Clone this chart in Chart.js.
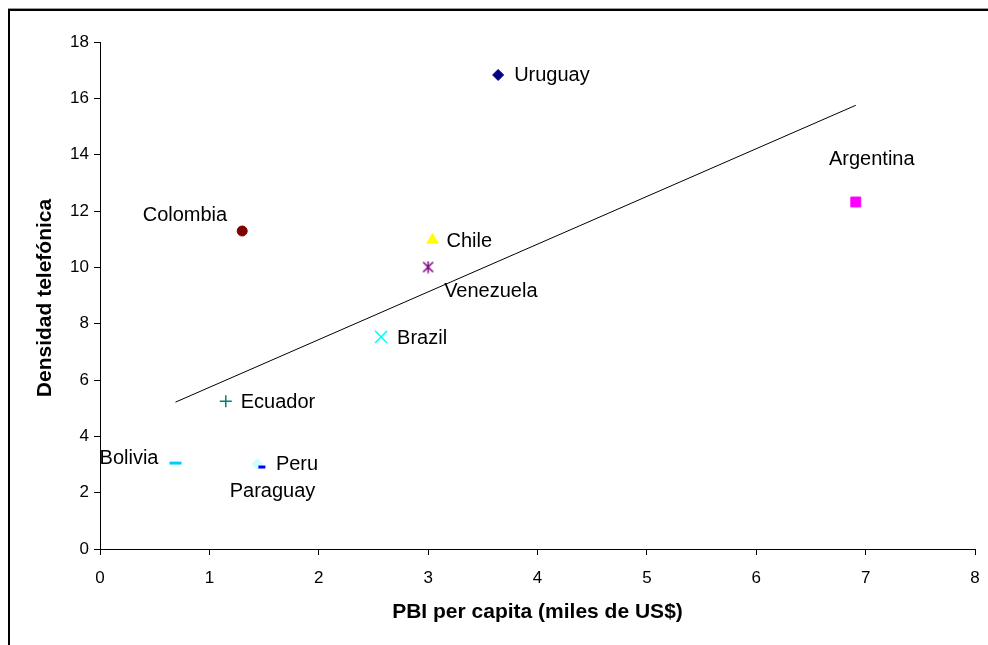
<!DOCTYPE html>
<html>
<head>
<meta charset="utf-8">
<script src="https://cdn.jsdelivr.net/npm/chart.js@4/dist/chart.umd.min.js"></script>
<style>
  html, body { margin: 0; padding: 0; background: #fff; }
  canvas { display: block; }
</style>
</head>
<body>
<canvas id="chart" width="988" height="645"></canvas>
<script>
// GDP per capita vs. telephone density, South America
const countries    = ['Uruguay', 'Argentina', 'Chile', 'Brazil', 'Venezuela', 'Colombia', 'Ecuador', 'Peru', 'Bolivia', 'Paraguay'];
const gdpPerCapita = [3.64, 6.91, 3.04, 2.57, 3.00, 1.30, 1.15, 1.48, 0.69, 1.44];
const phoneDensity = [16.83, 12.32, 10.97, 7.53, 10.01, 11.29, 5.25, 2.91, 3.05, 3.02];

const xTickValues = [0, 1, 2, 3, 4, 5, 6, 7, 8];
const yTickValues = [0, 2, 4, 6, 8, 10, 12, 14, 16, 18];

const xTitle = 'PBI per capita (miles de US$)';
const yTitle = 'Densidad telefónica';

// six-armed asterisk marker (an X crossed by a vertical stroke)
function asteriskMarker(color, half, lw) {
  const size = Math.ceil(half * 2 + lw * 2);
  const c = document.createElement('canvas');
  c.width = size; c.height = size;
  const g = c.getContext('2d');
  const m = size / 2;
  g.strokeStyle = color;
  g.lineWidth = lw;
  g.beginPath();
  g.moveTo(m - half, m - half); g.lineTo(m + half, m + half);
  g.moveTo(m + half, m - half); g.lineTo(m - half, m + half);
  g.moveTo(m, m - half - 1);    g.lineTo(m, m + half + 1);
  g.stroke();
  return c;
}

// marker look for each country series
const markerStyle = {
  Uruguay:   { style: 'rectRot',  color: '#000080', radius: 5.5, width: 1 },
  Argentina: { style: 'rect',     color: '#FF00FF', radius: 7,   width: 1 },
  Chile:     { style: 'triangle', color: '#FFFF00', radius: 6.5, width: 1 },
  Brazil:    { style: 'crossRot', color: '#00FFFF', radius: 8.5, width: 1.5 },
  Venezuela: { style: asteriskMarker('#800080', 5, 1.5), color: '#800080', radius: 6, width: 1.5 },
  Colombia:  { style: 'circle',   color: '#800000', radius: 5,   width: 1 },
  Ecuador:   { style: 'cross',    color: '#008080', radius: 6,   width: 1.5 },
  Peru:      { style: 'line',     color: '#0000FF', radius: 3.5, width: 3 },
  Bolivia:   { style: 'line',     color: '#00CCFF', radius: 6,   width: 3 },
  Paraguay:  { style: 'rectRot',  color: '#CCFFFF', radius: 5.5, width: 1 }
};

// where each name sits relative to its marker
const labelPlacement = {
  Uruguay:   { dx: 16,  dy: 1,   align: 'left' },
  Argentina: { dx: 16,  dy: -43, align: 'center' },
  Chile:     { dx: 14,  dy: 1,   align: 'left' },
  Brazil:    { dx: 16,  dy: 2,   align: 'left' },
  Venezuela: { dx: 16,  dy: 24,  align: 'left' },
  Colombia:  { dx: -15, dy: -16, align: 'right' },
  Ecuador:   { dx: 15,  dy: 1,   align: 'left' },
  Peru:      { dx: 14,  dy: -3,  align: 'left' },
  Bolivia:   { dx: -17, dy: -5,  align: 'right' },
  Paraguay:  { dx: 15,  dy: 28,  align: 'center' }
};

// least-squares linear trend across the observed x range
function linearTrend(xs, ys) {
  const n = xs.length;
  const mx = xs.reduce((a, b) => a + b, 0) / n;
  const my = ys.reduce((a, b) => a + b, 0) / n;
  let sxy = 0, sxx = 0;
  for (let i = 0; i < n; i++) {
    sxy += (xs[i] - mx) * (ys[i] - my);
    sxx += (xs[i] - mx) * (xs[i] - mx);
  }
  const slope = sxy / sxx;
  const intercept = my - slope * mx;
  const x0 = Math.min(...xs), x1 = Math.max(...xs);
  return [{ x: x0, y: intercept + slope * x0 }, { x: x1, y: intercept + slope * x1 }];
}

const FONT = '"Liberation Sans", Arial, sans-serif';

const datasets = countries.map((name, i) => {
  const m = markerStyle[name];
  return {
    label: name,
    data: [{ x: gdpPerCapita[i], y: phoneDensity[i] }],
    pointStyle: m.style,
    pointRadius: m.radius,
    pointHoverRadius: m.radius,
    backgroundColor: m.color,
    borderColor: m.color,
    pointBorderWidth: m.width,
    order: 1
  };
});

datasets.push({
  type: 'line',
  label: 'trend',
  data: linearTrend(gdpPerCapita, phoneDensity),
  borderColor: '#000',
  borderWidth: 1,
  pointRadius: 0,
  fill: false,
  order: 2
});

// outer frame of the chart object
const framePlugin = {
  id: 'frame',
  beforeDraw(chart) {
    const ctx = chart.ctx;
    ctx.save();
    ctx.fillStyle = '#fff';
    ctx.fillRect(0, 0, chart.width, chart.height);
    ctx.fillStyle = '#9a9a9a';
    ctx.fillRect(8, 8, chart.width, 1);
    ctx.fillStyle = '#000';
    ctx.fillRect(8, 9, chart.width, 2);
    ctx.fillRect(8, 9, 2, chart.height);
    ctx.restore();
  }
};

// country names beside their markers, and the two axis titles
const textPlugin = {
  id: 'texts',
  afterDatasetsDraw(chart) {
    const ctx = chart.ctx;
    ctx.save();
    ctx.fillStyle = '#000';
    ctx.textBaseline = 'middle';
    ctx.font = '20px ' + FONT;
    countries.forEach((name, i) => {
      const pt = chart.getDatasetMeta(i).data[0];
      const p = labelPlacement[name];
      ctx.textAlign = p.align;
      ctx.fillText(name, pt.x + p.dx, pt.y + p.dy);
    });

    const area = chart.chartArea;
    ctx.font = 'bold 21px ' + FONT;
    ctx.textAlign = 'center';
    ctx.fillText(xTitle, (area.left + area.right) / 2, 612);

    ctx.translate(45, 298);
    ctx.rotate(-Math.PI / 2);
    ctx.fillText(yTitle, 0, 0);
    ctx.restore();
  }
};

new Chart(document.getElementById('chart'), {
  type: 'scatter',
  data: { datasets },
  options: {
    responsive: false,
    animation: false,
    events: [],
    layout: { padding: { top: 42, right: 13, left: 0, bottom: 0 } },
    plugins: {
      legend: { display: false },
      tooltip: { enabled: false },
      title: { display: false }
    },
    scales: {
      x: {
        type: 'linear',
        min: xTickValues[0],
        max: xTickValues[xTickValues.length - 1],
        afterBuildTicks(scale) { scale.ticks = xTickValues.map(v => ({ value: v })); },
        afterFit(scale) { scale.height = 96; scale.paddingLeft = 0; scale.paddingRight = 0; },
        border: { display: true, color: '#000', width: 1 },
        grid: { display: true, drawOnChartArea: false, drawTicks: true, tickLength: 6, color: '#000' },
        ticks: { color: '#000', font: { family: FONT, size: 17 }, padding: 13, maxRotation: 0 }
      },
      y: {
        type: 'linear',
        min: yTickValues[0],
        max: yTickValues[yTickValues.length - 1],
        afterBuildTicks(scale) { scale.ticks = yTickValues.map(v => ({ value: v })); },
        afterFit(scale) { scale.width = 100; scale.paddingTop = 0; scale.paddingBottom = 0; },
        border: { display: true, color: '#000', width: 1 },
        grid: { display: true, drawOnChartArea: false, drawTicks: true, tickLength: 6, color: '#000' },
        ticks: { color: '#000', font: { family: FONT, size: 17 }, padding: 5 }
      }
    }
  },
  plugins: [framePlugin, textPlugin]
});
</script>
</body>
</html>
